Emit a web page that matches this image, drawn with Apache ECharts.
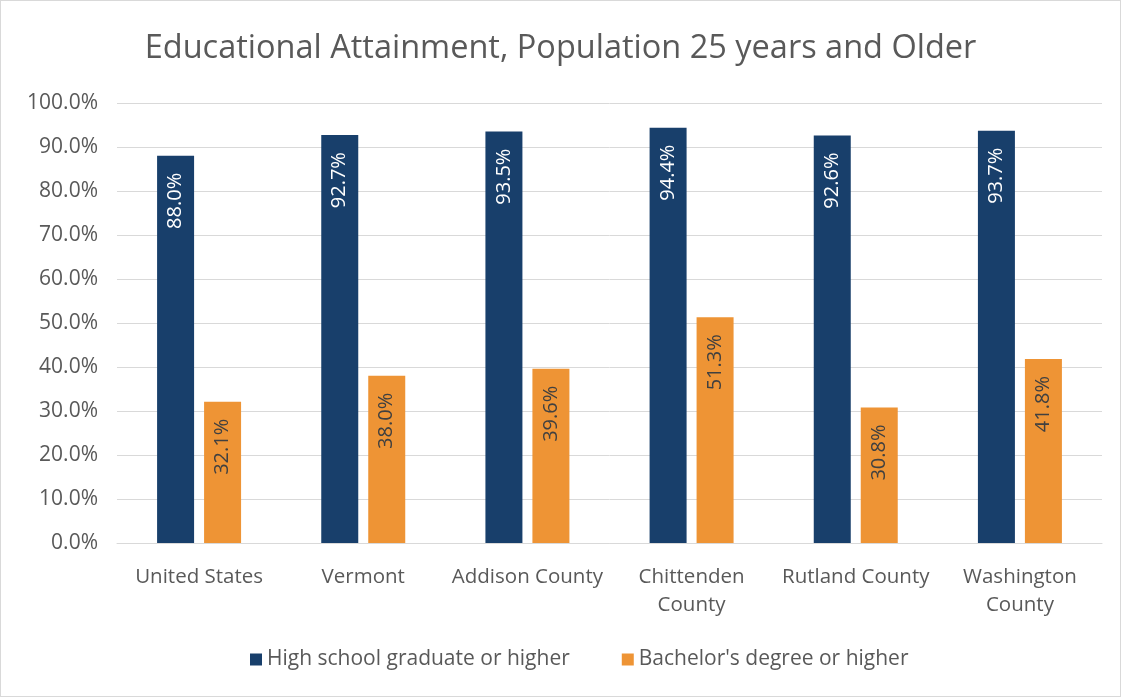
<!DOCTYPE html>
<html>
<head>
<meta charset="utf-8">
<script src="https://cdn.jsdelivr.net/npm/echarts@6/dist/echarts.min.js"></script>
<style>
  html, body { margin: 0; padding: 0; background: #fff; }
  #chart { width: 1121px; height: 697px; box-sizing: border-box; border: 1px solid #d9d9d9; }
</style>
</head>
<body>
<div id="chart"></div>
<script>
const categories = ['United States', 'Vermont', 'Addison County', 'Chittenden\nCounty', 'Rutland County', 'Washington\nCounty']
const highSchool = [88.0, 92.7, 93.5, 94.4, 92.6, 93.7]
const bachelors = [32.1, 38.0, 39.6, 51.3, 30.8, 41.8]
const seriesNames = ['High school graduate or higher', "Bachelor's degree or higher"]

const font = 'Open Sans'

const chart = echarts.init(document.getElementById('chart'))

function barLabel(color) {
  return {
    show: true,
    position: 'insideTop',
    distance: 17,
    rotate: 90,
    align: 'right',
    verticalAlign: 'middle',
    color,
    fontFamily: font,
    fontSize: 20,
    formatter: p => p.value.toFixed(1) + '%'
  }
}

chart.setOption({
  animation: false,
  title: {
    text: 'Educational Attainment, Population 25 years and Older',
    left: 'center',
    top: 26,
    textStyle: { fontFamily: font, fontSize: 32.5, fontWeight: 'normal', color: '#595959' }
  },
  grid: { left: 116, right: 18, top: 102, bottom: 153 },
  legend: {
    bottom: 21,
    left: 244,
    itemWidth: 12,
    itemHeight: 12,
    itemGap: 52,
    icon: 'rect',
    textStyle: { fontFamily: font, fontSize: 21, color: '#595959' },
    data: seriesNames
  },
  xAxis: {
    type: 'category',
    data: categories,
    axisTick: { show: false },
    axisLine: { lineStyle: { color: '#d9d9d9', width: 1 } },
    axisLabel: { interval: 0, fontFamily: font, fontSize: 20.5, color: '#595959', margin: 20, lineHeight: 28 }
  },
  yAxis: {
    type: 'value',
    min: 0,
    max: 100,
    interval: 10,
    axisLine: { show: false },
    axisTick: { show: false },
    splitLine: { lineStyle: { color: '#d9d9d9', width: 1 } },
    axisLabel: { fontFamily: font, fontSize: 21, color: '#595959', margin: 19, formatter: v => v.toFixed(1) + '%' }
  },
  series: [
    {
      name: seriesNames[0],
      type: 'bar',
      data: highSchool,
      barWidth: 37,
      barGap: '27%',
      itemStyle: { color: '#183f6b' },
      label: barLabel('#ffffff')
    },
    {
      name: seriesNames[1],
      type: 'bar',
      data: bachelors,
      barWidth: 37,
      itemStyle: { color: '#ee9435' },
      label: barLabel('#404040')
    }
  ]
})
</script>
</body>
</html>
